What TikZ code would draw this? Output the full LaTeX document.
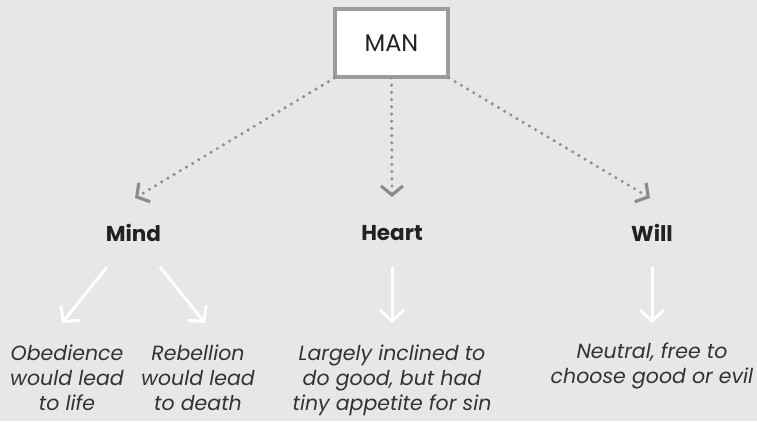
\documentclass[tikz,border=0pt]{standalone}
\usepackage{fontspec}
\setmainfont{Poppins}
\usetikzlibrary{arrows.meta}
\definecolor{bg}{HTML}{E6E7E8}
\definecolor{boxgray}{HTML}{9C9C9C}
\definecolor{dotgray}{HTML}{8E8E8E}
\definecolor{headgray}{HTML}{8C8C8C}
\definecolor{txt}{HTML}{222222}
\definecolor{itxt}{HTML}{333333}
\tikzset{
  dotline/.style={draw=dotgray, line width=3.4bp, line cap=round,
    dash pattern=on 0bp off 7.2bp,
    -{Straight Barb[length=9bp,width=22bp,line width=3.2bp,color=headgray]}},
  whitearrow/.style={draw=white, line width=3bp,
    -{Straight Barb[length=11bp,width=24bp,line width=3bp]}},
  label/.style={font=\fontsize{21.5bp}{25bp}\selectfont\bfseries, text=txt, inner sep=0pt},
  desc/.style={font=\fontsize{20.5bp}{25bp}\selectfont\itshape, text=itxt, align=center, inner sep=0pt, anchor=north},
}
\begin{document}
\begin{tikzpicture}[x=1bp,y=-1bp]
\useasboundingbox[fill=bg] (0,0) rectangle (757,421);
% MAN box
\node[draw=boxgray, fill=white, line width=3.5bp, minimum width=113bp, minimum height=68bp,
      inner sep=0pt, font=\fontsize{24bp}{28bp}\selectfont, text=txt] (man) at (391.5,43) {MAN};
\coordinate (bl) at (334.5,78);
\coordinate (bc) at (391.5,78);
\coordinate (br) at (449,78);
% headings
\node[label] (mind) at (133.5,233) {Mind};
\node[label] (heart) at (392,233) {Heart};
\node[label] (will) at (652,233) {Will};
% tips of dotted connectors
\coordinate (tmind) at (135,198);
\coordinate (theart) at (392,197);
\coordinate (twill) at (650,198);
\draw[dotline] (bl) -- (tmind);
\draw[dotline] (bc) -- (theart);
\draw[dotline] (br) -- (twill);
% white arrows
\coordinate (m1s) at (107,267); \coordinate (m1e) at (62,323);
\coordinate (m2s) at (160,267); \coordinate (m2e) at (205,323);
\coordinate (hs) at (392,267); \coordinate (he) at (392,323);
\coordinate (ws) at (652,267); \coordinate (we) at (652,323);
\draw[whitearrow] (m1s) -- (m1e);
\draw[whitearrow] (m2s) -- (m2e);
\draw[whitearrow] (hs) -- (he);
\draw[whitearrow] (ws) -- (we);
% descriptions
\node[desc] (obed) at (67,345) {Obedience\\would lead\\to life};
\node[desc] (rebel) at (198,345) {Rebellion\\would lead\\to death};
\node[desc] (hdesc) at (392,345) {Largely inclined to\\do good, but had\\tiny appetite for sin};
\node[desc] (wdesc) at (652,343) {Neutral, free to\\choose good or evil};
\end{tikzpicture}
\end{document}
